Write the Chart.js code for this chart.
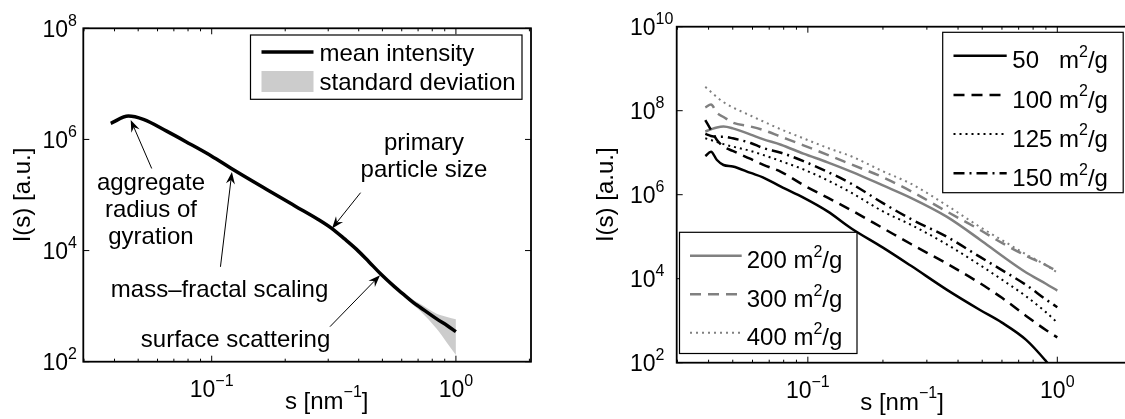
<!DOCTYPE html>
<html>
<head>
<meta charset="utf-8">
<script src="https://cdn.jsdelivr.net/npm/chart.js@4.4.0/dist/chart.umd.min.js"></script>
<style>
html, body { margin: 0; padding: 0; background: #fff; overflow: hidden; width: 1125px; height: 419px; }
#left { position: absolute; left: 0; top: 0; }
#right { position: absolute; left: 560px; top: 0; }
</style>
</head>
<body>
<canvas id="left" width="560" height="419"></canvas>
<canvas id="right" width="600" height="419"></canvas>
<script>
// ---- data: left panel (mean intensity + std band) ----
const sLeft = [0.0386, 0.0456, 0.0525, 0.0654, 0.0815, 0.1, 0.119, 0.168, 0.22, 0.273, 0.31, 0.35, 0.392, 0.44, 0.489, 0.56, 0.607, 0.668, 0.713, 0.834, 0.92, 1.0];
const meanInt = [1.95e6, 2.63e6, 2.29e6, 1.41e6, 8.3e5, 5.0e5, 3.1e5, 1.26e5, 6.3e4, 3.63e4, 2.51e4, 1.62e4, 1.05e4, 6.3e3, 3.9e3, 2.24e3, 1.66e3, 1.17e3, 955, 589, 447, 347];
const stdUpper = [1.95e6, 2.63e6, 2.29e6, 1.41e6, 8.3e5, 5.0e5, 3.1e5, 1.26e5, 6.3e4, 3.63e4, 2.51e4, 1.62e4, 1.05e4, 6.3e3, 3.9e3, 2.3e3, 1.75e3, 1.3e3, 1.1e3, 730, 640, 578];
const stdLower = [1.95e6, 2.63e6, 2.29e6, 1.41e6, 8.3e5, 5.0e5, 3.1e5, 1.26e5, 6.3e4, 3.63e4, 2.51e4, 1.62e4, 1.05e4, 6.3e3, 3.9e3, 2.2e3, 1.6e3, 1.05e3, 830, 390, 218, 132];

// ---- data: right panel (specific surface area series) ----
const sRight = [0.0388, 0.0409, 0.0432, 0.0459, 0.05, 0.059, 0.066, 0.078, 0.096, 0.12, 0.15, 0.2, 0.26, 0.36, 0.49, 0.6, 0.75, 0.9, 1.0];
const i50  = [8.3e6, 1.05e7, 6.7e6, 5.1e6, 4.7e6, 3.3e6, 2.6e6, 1.55e6, 8.5e5, 4.0e5, 1.55e5, 5.5e4, 2.0e4, 5.5e3, 1.8e3, 900, 350, 110, 50];
const i100 = [6.0e7, 3.5e7, 2.0e7, 1.4e7, 1.1e7, 7.1e6, 5.2e6, 3.5e6, 1.7e6, 8.5e5, 4.2e5, 1.6e5, 6.6e4, 2.3e4, 7.8e3, 3.5e3, 1.3e3, 600, 400];
const i125 = [2.2e7, 2.0e7, 1.8e7, 1.6e7, 1.4e7, 1.1e7, 8.9e6, 6.3e6, 4.0e6, 2.2e6, 1.1e6, 4.0e5, 1.9e5, 6.6e4, 2.1e4, 9.5e3, 3.8e3, 1.6e3, 900];
const i150 = [2.8e7, 2.5e7, 2.4e7, 2.4e7, 2.2e7, 1.7e7, 1.3e7, 1.0e7, 6.3e6, 3.5e6, 1.8e6, 6.3e5, 2.6e5, 1.0e5, 3.3e4, 1.6e4, 7.1e3, 3.2e3, 2.1e3];
const i200 = [3.2e7, 3.6e7, 4.0e7, 4.2e7, 3.8e7, 2.7e7, 2.1e7, 1.55e7, 9.5e6, 5.9e6, 3.5e6, 1.66e6, 8.3e5, 3.0e5, 8.5e4, 3.5e4, 1.4e4, 7.6e3, 5.2e3];
const i300 = [1.2e8, 1.4e8, 8.9e7, 7.1e7, 5.2e7, 4.2e7, 3.5e7, 2.4e7, 1.5e7, 8.9e6, 5.2e6, 2.6e6, 1.2e6, 4.0e5, 1.45e5, 7.1e4, 3.5e4, 2.1e4, 1.5e4];
const i400 = [3.7e8, 2.8e8, 2.1e8, 1.6e8, 1.2e8, 7.6e7, 5.6e7, 3.6e7, 2.2e7, 1.3e7, 8.1e6, 3.6e6, 1.8e6, 5.6e5, 1.7e5, 8.3e4, 3.8e4, 2.1e4, 1.4e4];
const surfLabels = ['50   m^{2}/g', '100 m^{2}/g', '125 m^{2}/g', '150 m^{2}/g', '200 m^{2}/g', '300 m^{2}/g', '400 m^{2}/g'];

// ---- axes ----
const xMin = 0.0298, xMax = 2.03;
const xTicks = [0.1, 1];
const xTickLabels = ['10^{\u22121}', '10^{0}'];
const xMinor = [0.03, 0.04, 0.05, 0.06, 0.07, 0.08, 0.09, 0.2, 0.3, 0.4, 0.5, 0.6, 0.7, 0.8, 0.9, 2];
const yTicksLeft = [1e2, 1e4, 1e6, 1e8];
const yLabelsLeft = ['10^{2}', '10^{4}', '10^{6}', '10^{8}'];
const yTicksRight = [1e2, 1e4, 1e6, 1e8, 1e10];
const yLabelsRight = ['10^{2}', '10^{4}', '10^{6}', '10^{8}', '10^{10}'];
const xTitle = 's [nm^{\u22121}]';
const yTitle = 'I(s) [a.u.]';

const FONT = '"Liberation Sans", Arial, Helvetica, sans-serif';

function pts(xs, ys) {
  return xs.map((x, i) => ({ x: x, y: ys[i] }));
}

// split "10^{-1}" into normal / superscript runs
function runs(str) {
  const out = [];
  const re = /\^\{([^}]*)\}/g;
  let last = 0, m;
  while ((m = re.exec(str))) {
    if (m.index > last) out.push({ t: str.slice(last, m.index), sup: false });
    out.push({ t: m[1], sup: true });
    last = re.lastIndex;
  }
  if (last < str.length) out.push({ t: str.slice(last), sup: false });
  return out;
}

function richText(ctx, str, x, y, size, align) {
  const segs = runs(str);
  const sup = Math.round(size * 0.68);
  let w = 0;
  segs.forEach(s => {
    ctx.font = (s.sup ? sup : size) + 'px ' + FONT;
    s.w = ctx.measureText(s.t).width;
    w += s.w;
  });
  let cx = align === 'center' ? x - w / 2 : align === 'right' ? x - w : x;
  ctx.textAlign = 'left';
  ctx.textBaseline = 'alphabetic';
  segs.forEach(s => {
    ctx.font = (s.sup ? sup : size) + 'px ' + FONT;
    ctx.fillText(s.t, cx, s.sup ? y - size * 0.47 : y);
    cx += s.w;
  });
  return w;
}

function framePlugin(cfg) {
  return {
    id: 'frame',
    afterDatasetsDraw(chart) {
      const ctx = chart.ctx, a = chart.chartArea;
      const x = chart.scales.x, y = chart.scales.y;
      ctx.save();
      ctx.strokeStyle = '#000';
      ctx.lineWidth = 1;
      const seg = (x0, y0, x1, y1) => { ctx.beginPath(); ctx.moveTo(x0, y0); ctx.lineTo(x1, y1); ctx.stroke(); };
      xMinor.forEach(v => {
        const px = x.getPixelForValue(v);
        seg(px, a.bottom, px, a.bottom - 3);
        seg(px, a.top, px, a.top + 3);
      });
      xTicks.forEach(v => {
        const px = x.getPixelForValue(v);
        seg(px, a.bottom, px, a.bottom - 6);
        seg(px, a.top, px, a.top + 6);
      });
      cfg.yTicks.forEach(v => {
        const py = y.getPixelForValue(v);
        seg(a.left, py, a.left + 6, py);
        seg(a.right, py, a.right - 6, py);
      });
      ctx.lineWidth = 1.8;
      ctx.strokeRect(a.left, a.top, a.right - a.left, a.bottom - a.top);

      ctx.fillStyle = '#000';
      xTicks.forEach((v, i) => richText(ctx, xTickLabels[i], x.getPixelForValue(v), a.bottom + 35, 23, 'center'));
      cfg.yTicks.forEach((v, i) => richText(ctx, cfg.yLabels[i], cfg.yLabelX, y.getPixelForValue(v) + 8.5, 23, cfg.yAlign));
      richText(ctx, xTitle, cfg.xTitleX, a.bottom + 47, 24, 'center');

      ctx.save();
      ctx.translate(cfg.yTitleX, (a.top + a.bottom) / 2);
      ctx.rotate(-Math.PI / 2);
      ctx.font = '24px ' + FONT;
      ctx.textAlign = 'center';
      ctx.textBaseline = 'middle';
      ctx.fillText(yTitle, 0, 0);
      ctx.restore();
      ctx.restore();
    }
  };
}

function legendPlugin(boxes) {
  return {
    id: 'boxLegend',
    afterDraw(chart) {
      const ctx = chart.ctx;
      ctx.save();
      boxes.forEach(b => {
        ctx.fillStyle = '#fff';
        ctx.fillRect(b.x, b.y, b.w, b.h);
        ctx.strokeStyle = '#000';
        ctx.lineWidth = 1.2;
        ctx.strokeRect(b.x, b.y, b.w, b.h);
        b.rows.forEach((r, k) => {
          const ds = chart.data.datasets[r];
          const ly = b.y + b.first + k * b.step;
          if (ds.fill) {
            ctx.fillStyle = ds.backgroundColor;
            ctx.fillRect(b.x + b.s0, ly - 10.5, b.s1 - b.s0, 21);
          } else {
            ctx.strokeStyle = ds.borderColor;
            ctx.lineWidth = ds.borderWidth;
            ctx.setLineDash(ds.borderDash || []);
            ctx.beginPath();
            ctx.moveTo(b.x + b.s0, ly);
            ctx.lineTo(b.x + b.s1, ly);
            ctx.stroke();
            ctx.setLineDash([]);
          }
          ctx.fillStyle = '#000';
          richText(ctx, ds.label, b.x + b.tx, ly + b.base, 24, 'left');
        });
      });
      ctx.restore();
    }
  };
}

// ---- annotations on the left panel (anchored in data coordinates) ----
const annoText = [
  { lines: ['aggregate', 'radius of', 'gyration'], s: 0.0564, v: 1.23e5 },
  { lines: ['primary', 'particle size'], s: 0.74, v: 6.5e5 },
  { lines: ['mass\u2013fractal scaling'], s: 0.1077, v: 1.48e3 },
  { lines: ['surface scattering'], s: 0.1252, v: 184 }
];
const arrowTail = [[0.0568, 3.0e5], [0.1086, 5.1e3], [0.407, 1.1e5], [0.305, 427]];
const arrowHead = [[0.0466, 2.24e6], [0.121, 2.6e5], [0.311, 2.5e4], [0.489, 3.6e3]];

const annoPlugin = {
  id: 'anno',
  afterDraw(chart) {
    const ctx = chart.ctx, x = chart.scales.x, y = chart.scales.y;
    ctx.save();
    ctx.fillStyle = '#000';
    ctx.strokeStyle = '#000';
    annoText.forEach(t => {
      const px = x.getPixelForValue(t.s), py = y.getPixelForValue(t.v);
      t.lines.forEach((ln, k) => richText(ctx, ln, px, py + k * 27, 24, 'center'));
    });
    arrowTail.forEach((tl, i) => {
      const x0 = x.getPixelForValue(tl[0]), y0 = y.getPixelForValue(tl[1]);
      const x1 = x.getPixelForValue(arrowHead[i][0]), y1 = y.getPixelForValue(arrowHead[i][1]);
      const ang = Math.atan2(y1 - y0, x1 - x0), c = Math.cos(ang), s = Math.sin(ang);
      const L = 12, W = 4.5, N = 8;
      ctx.lineWidth = 1;
      ctx.beginPath();
      ctx.moveTo(x0, y0);
      ctx.lineTo(x1 - N * c, y1 - N * s);
      ctx.stroke();
      ctx.beginPath();
      ctx.moveTo(x1, y1);
      ctx.lineTo(x1 - L * c + W * s, y1 - L * s - W * c);
      ctx.lineTo(x1 - N * c, y1 - N * s);
      ctx.lineTo(x1 - L * c - W * s, y1 - L * s + W * c);
      ctx.closePath();
      ctx.fill();
    });
    ctx.restore();
  }
};

function baseOptions(yMax, yWidth, xHeight, padTop, padRight) {
  return {
    responsive: false,
    animation: false,
    devicePixelRatio: 1,
    layout: { padding: { top: padTop, right: padRight, left: 0, bottom: 0 } },
    elements: { point: { radius: 0 }, line: { cubicInterpolationMode: 'monotone' } },
    plugins: { legend: { display: false }, tooltip: { enabled: false } },
    scales: {
      x: {
        type: 'logarithmic', min: xMin, max: xMax, bounds: 'data',
        grid: { display: false }, border: { display: false }, ticks: { display: false },
        afterFit(s) { s.height = xHeight; }
      },
      y: {
        type: 'logarithmic', min: 100, max: yMax, bounds: 'data',
        grid: { display: false }, border: { display: false }, ticks: { display: false },
        afterFit(s) { s.width = yWidth; }
      }
    }
  };
}

new Chart(document.getElementById('left'), {
  type: 'line',
  data: {
    datasets: [
      { label: 'mean intensity', data: pts(sLeft, meanInt), borderColor: '#000', borderWidth: 3.5, fill: false },
      { label: 'standard deviation', data: pts(sLeft, stdUpper), borderWidth: 0, borderColor: 'rgba(0,0,0,0)', backgroundColor: '#cccccc', fill: '+1' },
      { label: 'lower', data: pts(sLeft, stdLower), borderWidth: 0, borderColor: 'rgba(0,0,0,0)', fill: false }
    ]
  },
  options: baseOptions(1e8, 83.3, 57.3, 28.3, 29),
  plugins: [
    framePlugin({ yTicks: yTicksLeft, yLabels: yLabelsLeft, yLabelX: 77, yAlign: 'right', xTitleX: 326.7, yTitleX: 23 }),
    annoPlugin,
    legendPlugin([{ x: 250.5, y: 35, w: 271.5, h: 64.3, rows: [0, 1], first: 17, step: 29.5, s0: 11, s1: 63, tx: 69, base: 8.5 }])
  ]
});

const grey = '#808080';
new Chart(document.getElementById('right'), {
  type: 'line',
  data: {
    datasets: [
      { label: surfLabels[0], data: pts(sRight, i50),  borderColor: '#000', borderWidth: 2.5 },
      { label: surfLabels[1], data: pts(sRight, i100), borderColor: '#000', borderWidth: 2.5, borderDash: [11, 7] },
      { label: surfLabels[2], data: pts(sRight, i125), borderColor: '#000', borderWidth: 2, borderDash: [2, 4] },
      { label: surfLabels[3], data: pts(sRight, i150), borderColor: '#000', borderWidth: 2.5, borderDash: [11, 5, 2, 5] },
      { label: surfLabels[4], data: pts(sRight, i200), borderColor: grey, borderWidth: 2.5 },
      { label: surfLabels[5], data: pts(sRight, i300), borderColor: grey, borderWidth: 2.5, borderDash: [11, 7] },
      { label: surfLabels[6], data: pts(sRight, i400), borderColor: grey, borderWidth: 2, borderDash: [2, 4] }
    ]
  },
  options: baseOptions(1e10, 116.7, 56.3, 26.7, 26),
  plugins: [
    framePlugin({ yTicks: yTicksRight, yLabels: yLabelsRight, yLabelX: 70, yAlign: 'left', xTitleX: 342, yTitleX: 46.8 }),
    legendPlugin([
      { x: 382.7, y: 32.3, w: 180.5, h: 160.4, rows: [0, 1, 2, 3], first: 23.4, step: 39.2, s0: 10.8, s1: 64, tx: 69.6, base: 12.6 },
      { x: 119.5, y: 232.3, w: 177.5, h: 121.2, rows: [4, 5, 6], first: 23.4, step: 38.5, s0: 10.5, s1: 62.2, tx: 67.2, base: 12.6 }
    ])
  ]
});
</script>
</body>
</html>
